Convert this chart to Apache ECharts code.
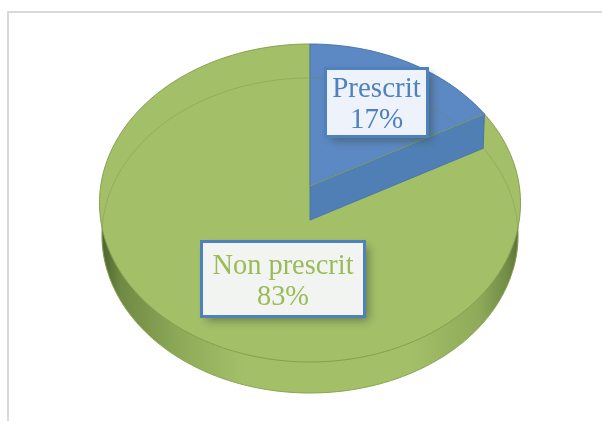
<!DOCTYPE html>
<html>
<head>
<meta charset="utf-8">
<style>
  html, body { margin: 0; padding: 0; background: #fff; }
  #chart { width: 602px; height: 421px; }
</style>
</head>
<body>
<div id="chart"></div>
<script src="https://cdn.jsdelivr.net/npm/echarts@6/dist/echarts.min.js"></script>
<script>
const categories = ['Prescrit', 'Non prescrit']
const values = [17, 83]

const total = values.reduce((a, b) => a + b, 0)
const STEP = Math.PI / 180

// disque en perspective : le centre du camembert n'est pas au centre de l'ellipse
const topDisc = { cx: 310, cy: 203, rx: 210.5, ry: 159, shift: 0.107 }
const bottomDisc = { cx: 310, cy: 235.5, rx: 208, ry: 157.5, shift: 0.098 }

function project(disc, angle, r) {
  const u = r * Math.sin(angle)
  const v = r * Math.cos(angle)
  const a = disc.shift
  const d = 1 + a * v
  return [
    disc.cx + disc.rx * u * Math.sqrt(1 - a * a) / d,
    disc.cy - disc.ry * (v + a) / d
  ]
}

function arc(disc, from, to) {
  const pts = []
  const n = Math.ceil(Math.abs(to - from) / STEP)
  for (let i = 0; i <= n; i++) {
    pts.push(project(disc, from + (to - from) * i / n, 1))
  }
  return pts
}

const sliceStyles = [
  { top: '#5c88c4', stroke: '#4a76ad', face: '#4f7fb4', fill: '#eef2fa', text: '#4f81bd', size: 29, dy: 2 },
  { top: '#a3bf68', stroke: '#86a04e', face: null, fill: '#f2f4f2', text: '#9bbb59', size: 28.4, dy: 3 }
]
const boxes = [
  { x: 325.5, y: 68.5, width: 102, height: 68 },
  { x: 201.5, y: 241.5, width: 163, height: 75 }
]

function renderSlice(params, api) {
  const i = params.dataIndex
  const before = values.slice(0, i).reduce((a, b) => a + b, 0)
  const start = before / total * Math.PI * 2
  const end = (before + api.value(0)) / total * Math.PI * 2
  const st = sliceStyles[i]
  const box = boxes[i]
  const children = []

  if (i === 1) {
    // flanc du cylindre
    children.push({
      type: 'polygon',
      z2: 1,
      shape: { points: arc(bottomDisc, 0, Math.PI * 2) },
      style: {
        fill: {
          type: 'linear', x: 100, y: 0, x2: 520, y2: 0, global: true,
          colorStops: [
            { offset: 0, color: '#4a6030' },
            { offset: 0.05, color: '#6f8a44' },
            { offset: 0.2, color: '#90ac5a' },
            { offset: 0.34, color: '#a3bf68' },
            { offset: 0.74, color: '#a3bf68' },
            { offset: 0.9, color: '#8fab5a' },
            { offset: 0.97, color: '#728c45' },
            { offset: 1, color: '#566f35' }
          ]
        },
        stroke: '#8aa552',
        lineWidth: 1
      }
    })
  }

  children.push({
    type: 'polygon',
    z2: i === 1 ? 2 : 4,
    shape: { points: [project(topDisc, 0, 0)].concat(arc(topDisc, start, end)) },
    style: { fill: st.top, stroke: st.stroke, lineWidth: 1 }
  })

  if (i === 1) {
    // arrière du disque inférieur, vu par transparence
    children.push({
      type: 'polyline',
      z2: 6,
      shape: { points: arc(bottomDisc, -Math.PI * 0.6, Math.PI * 0.6) },
      style: { fill: null, stroke: 'rgba(110,135,70,0.3)', lineWidth: 1 }
    })
  }

  if (st.face) {
    children.push({
      type: 'polygon',
      z2: 5,
      shape: {
        points: [
          project(topDisc, 0, 0),
          project(topDisc, end, 1),
          project(bottomDisc, end, 1),
          project(bottomDisc, 0, 0)
        ]
      },
      style: { fill: st.face, stroke: st.stroke, lineWidth: 1 }
    })
    children.push({
      type: 'line',
      z2: 5,
      shape: {
        x1: project(topDisc, 0, 0)[0],
        y1: project(topDisc, 0, 0)[1],
        x2: project(topDisc, end, 1)[0],
        y2: project(topDisc, end, 1)[1]
      },
      style: { stroke: '#7f9f70', lineWidth: 1 }
    })
  }

  // l'ombre sur un rectangle à part, sinon le trait la projette sur le fond du cadre
  children.push({
    type: 'rect',
    z2: 10,
    shape: box,
    style: {
      fill: '#4f81bd',
      shadowBlur: 9,
      shadowOffsetX: 4,
      shadowOffsetY: 4,
      shadowColor: 'rgba(50,70,50,0.55)'
    }
  })
  children.push({
    type: 'rect',
    z2: 11,
    shape: box,
    style: { fill: st.fill, stroke: '#4f81bd', lineWidth: 3 }
  })
  children.push({
    type: 'text',
    z2: 12,
    style: {
      x: box.x + box.width / 2,
      y: box.y + box.height / 2 + st.dy,
      text: categories[i] + '\n' + Math.round(api.value(0) / total * 100) + '%',
      fill: st.text,
      font: st.size + 'px "Liberation Serif"',
      lineHeight: 31,
      align: 'center',
      verticalAlign: 'middle'
    }
  })

  return { type: 'group', children: children }
}

const chart = echarts.init(document.getElementById('chart'))
chart.setOption({
  animation: false,
  backgroundColor: '#fff',
  graphic: [
    { type: 'rect', shape: { x: 7, y: 11, width: 595, height: 2 }, style: { fill: '#d9d9d9' } },
    { type: 'rect', shape: { x: 7, y: 11, width: 2, height: 410 }, style: { fill: '#d9d9d9' } }
  ],
  series: [
    {
      type: 'custom',
      coordinateSystem: 'none',
      renderItem: renderSlice,
      data: values.map(v => [v])
    }
  ]
})
</script>
</body>
</html>
